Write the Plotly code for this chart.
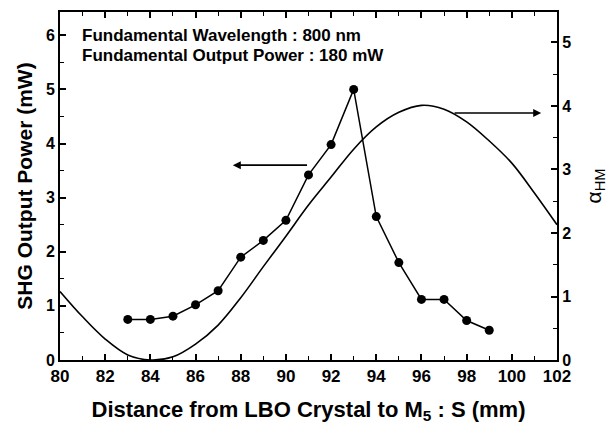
import plotly.graph_objects as go

# Measured SHG output power (left axis)
dist_mm = [83, 84, 85, 86, 87, 88, 89, 90, 91, 92, 93, 94, 95, 96, 97, 98, 99]
shg_mw = [0.75, 0.75, 0.81, 1.02, 1.28, 1.90, 2.21, 2.58, 3.42, 3.98, 5.00,
          2.65, 1.80, 1.12, 1.12, 0.73, 0.55]

# Calculated alpha_HM curve (right axis)
curve_x = [80, 81, 82, 83, 84, 85, 86, 87, 88, 89, 90, 91, 92, 93, 94, 95,
           96, 97, 98, 99, 100, 101, 102]
curve_alpha = [1.08, 0.68, 0.33, 0.08, 0.0, 0.05, 0.25, 0.55, 0.98, 1.47,
               1.95, 2.44, 2.88, 3.32, 3.67, 3.90, 4.01, 3.95, 3.75, 3.45,
               3.10, 2.63, 2.13]

x_ticks = [80, 82, 84, 86, 88, 90, 92, 94, 96, 98, 100, 102]
left_ticks = [0, 1, 2, 3, 4, 5, 6]
right_ticks = [0, 1, 2, 3, 4, 5]

FONT = "Liberation Sans, Arial, sans-serif"


def b(s):
    return "<b>" + s + "</b>"


fig = go.Figure()
fig.add_trace(go.Scatter(
    x=curve_x, y=curve_alpha, yaxis="y2", mode="lines",
    line=dict(color="black", width=1.6, shape="spline", smoothing=1.0),
    showlegend=False, hoverinfo="skip"))
fig.add_trace(go.Scatter(
    x=dist_mm, y=shg_mw, mode="lines+markers",
    line=dict(color="black", width=1.5),
    marker=dict(color="black", size=9, symbol="circle"),
    showlegend=False))

axis_common = dict(
    showline=True, linecolor="black", linewidth=2, ticks="inside",
    tickcolor="black", tickwidth=1.5, ticklen=6, showgrid=False,
    zeroline=False,
)
minor_common = dict(ticks="inside", ticklen=4, tickcolor="black", tickwidth=1.2)

fig.update_layout(
    width=615, height=433,
    margin=dict(l=60, r=58, t=10, b=73),
    paper_bgcolor="white", plot_bgcolor="white",
    font=dict(family=FONT, color="black"),
    xaxis=dict(
        range=[80, 102], tickvals=x_ticks, ticktext=[b(str(v)) for v in x_ticks],
        mirror="ticks", minor=dict(dtick=1, **minor_common),
        tickfont=dict(family=FONT, size=17, color="black"),
        title=dict(text=b("Distance from LBO Crystal to M<sub>5</sub> : S (mm)"),
                   font=dict(family=FONT, size=22), standoff=16),
        **axis_common),
    yaxis=dict(
        range=[0, 6.43], tickvals=left_ticks, ticktext=[b(str(v)) for v in left_ticks],
        minor=dict(dtick=0.5, **minor_common),
        tickfont=dict(family=FONT, size=16, color="black"),
        title=dict(text=b("SHG Output Power (mW)"), font=dict(family=FONT, size=21),
                   standoff=8),
        **axis_common),
    yaxis2=dict(
        range=[0, 5.48], tickvals=right_ticks, ticktext=[b(str(v)) for v in right_ticks],
        overlaying="y", side="right",
        minor=dict(dtick=0.5, **minor_common),
        tickfont=dict(family=FONT, size=16, color="black"),
        title=dict(text="α<sub>HM</sub>", font=dict(family=FONT, size=21),
                   standoff=16),
        **axis_common),
    annotations=[
        dict(xref="paper", yref="paper", x=0.04, y=0.933, xanchor="left",
             yanchor="middle", showarrow=False,
             text=b("Fundamental Wavelength : 800 nm"),
             font=dict(family=FONT, size=17, color="black")),
        dict(xref="paper", yref="paper", x=0.04, y=0.876, xanchor="left",
             yanchor="middle", showarrow=False,
             text=b("Fundamental Output Power : 180 mW"),
             font=dict(family=FONT, size=17, color="black")),
        dict(xref="x", yref="y", x=87.65, y=3.6, axref="x", ayref="y",
             ax=91.0, ay=3.6, text="", showarrow=True, arrowhead=2,
             arrowsize=1, arrowwidth=1.6, arrowcolor="black"),
        dict(xref="x", yref="y2", x=101.3, y=3.89, axref="x", ayref="y2",
             ax=97.4, ay=3.89, text="", showarrow=True, arrowhead=2,
             arrowsize=1, arrowwidth=1.6, arrowcolor="black"),
    ],
)

fig.write_html("out.html")
